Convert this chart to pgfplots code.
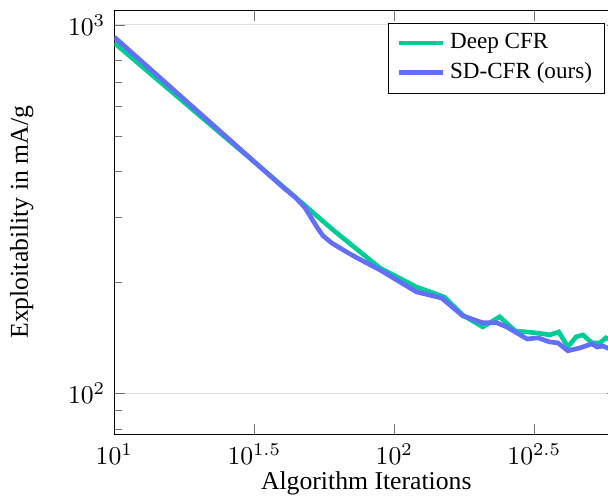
\documentclass[border=0pt]{standalone}
\usepackage{fontspec}
\setmainfont{Liberation Serif}
\usepackage{pgfplots}
\pgfplotsset{compat=1.18}

\definecolor{deepcfr}{HTML}{00CC96}
\definecolor{sdcfr}{HTML}{636EFA}

\begin{document}
\begin{tikzpicture}
  \begin{loglogaxis}[
      name=ax,
      scale only axis,
      width=196.1pt, height=165.2pt,
      xmin=10, xmax=631,
      ymin=77.4, ymax=1098,
      xtick={10,31.6228,100,316.228},
      xlabel={Algorithm Iterations},
      xlabel style={at={(axis description cs:0.5,-0.114)}, anchor=center},
      ylabel={Exploitability in mA/g},
      ylabel style={at={(axis description cs:-0.184,0.5)}, anchor=center},
      ymajorgrids,
      major grid style={black!13},
      tick style={black!55},
      legend cell align=left,
      legend style={font=\small, at={(1,1)}, anchor=north east,
        xshift=-5pt, yshift=-4.9pt},
    ]
    %% Deep CFR
    \addplot[color=deepcfr, line width=1.8pt] table {
      10    894
      20    571
      30.5  435
      40.6  361
      60.4  278
      88.9  219
      120   194.6
      151   182.7
      175.6 163.2
      207   151.6
      238   161.5
      270   147.9
      323   146.0
      359   144.2
      387   146.9
      417   133.7
      446   142.5
      472   144.2
      508   137.2
      543   137.2
      570   141.6
      599   139.7
    };
    \addlegendentry{Deep CFR}
    %% SD-CFR
    \addplot[color=sdcfr, line width=1.8pt] table {
      10    927
      20    580
      40    363
      44.6  339
      48    319
      52.9  283
      55.6  268
      59.8  256
      67.6  242
      73.5  233.5
      88.9  216.4
      120   188.7
      147.5 181.6
      175.6 162.5
      207   155.6
      232   155.6
      252   151.6
      298   140.6
      326   141.6
      359   138.0
      384   137.2
      417   130.6
      461   133.0
      508   136.4
      530   133.7
      556   134.5
      589   132.1
    };
    \addlegendentry{SD-CFR (ours)}
  \end{loglogaxis}
  \pgfresetboundingbox
  \path[use as bounding box]
    ([shift={(-44.5pt,-24.7pt)}]ax.south west)
    rectangle ([shift={(192.1pt,169.1pt)}]ax.south west);
\end{tikzpicture}
\end{document}
